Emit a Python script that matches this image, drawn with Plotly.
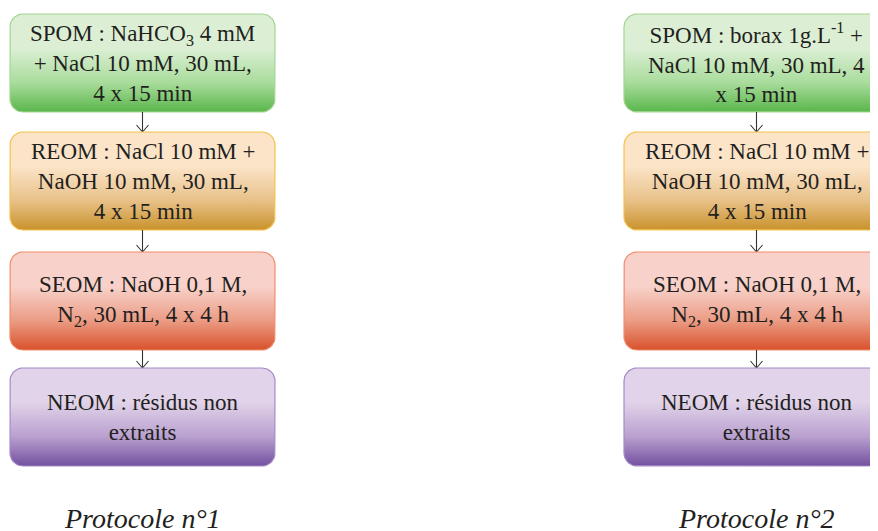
import numpy as np
import plotly.graph_objects as go

# ---- content ----
protocol_titles = ["Protocole n°1", "Protocole n°2"]
steps_p1 = [
    "SPOM : NaHCO<sub>3</sub> 4 mM<br>+ NaCl 10 mM, 30 mL,<br>4 x 15 min",
    "REOM : NaCl 10 mM +<br>NaOH 10 mM, 30 mL,<br>4 x 15 min",
    "SEOM : NaOH 0,1 M,<br>N<sub>2</sub>, 30 mL, 4 x 4 h",
    "NEOM : résidus non<br>extraits",
]
steps_p2 = [
    "SPOM : borax 1g.L<sup>-1</sup> +<br>NaCl 10 mM, 30 mL, 4<br>x 15 min",
    "REOM : NaCl 10 mM +<br>NaOH 10 mM, 30 mL,<br>4 x 15 min",
    "SEOM : NaOH 0,1 M,<br>N<sub>2</sub>, 30 mL, 4 x 4 h",
    "NEOM : résidus non<br>extraits",
]
# gradient colours (top, mid, bottom) and border per step
step_top = ["#dcefd5", "#fbe4c8", "#f8d2ca", "#e1d3e9"]
step_mid = ["#a9dc9c", "#e8c189", "#eb9c85", "#b9a0cf"]
step_bot = ["#5ab64b", "#c9922b", "#d8522b", "#73509f"]
step_border = ["#a3d592", "#f3c24c", "#f08b6b", "#a68ac7"]

# ---- layout geometry (page pixels) ----
W, H = 878, 531
PAGE_MARGIN = 8  # default body margin of the html page
col_left = [10, 624]
box_w = 265
box_tops = [14, 132, 252, 368]
box_h = 98
radius = 13


def rounded_rect(x0, y0, w, h, r, n=10):
    x1, y1 = x0 + w, y0 + h
    pts = []
    corners = [
        (x1 - r, y0 + r, -np.pi / 2, 0),
        (x1 - r, y1 - r, 0, np.pi / 2),
        (x0 + r, y1 - r, np.pi / 2, np.pi),
        (x0 + r, y0 + r, np.pi, 1.5 * np.pi),
    ]
    for cx, cy, a0, a1 in corners:
        for t in np.linspace(a0, a1, n):
            pts.append((cx + r * np.cos(t), cy + r * np.sin(t)))
    pts.append(pts[0])
    xs, ys = zip(*pts)
    return list(xs), list(ys)


fig = go.Figure()
font_family = "Liberation Serif"

for ci, (x0, steps) in enumerate(zip(col_left, [steps_p1, steps_p2])):
    cx = x0 + box_w / 2
    for si, text in enumerate(steps):
        y0 = box_tops[si]
        xs, ys = rounded_rect(x0, y0, box_w, box_h, radius)
        fig.add_trace(go.Scatter(
            x=xs, y=ys, mode="lines", fill="toself",
            line=dict(color=step_border[si], width=1.2),
            fillgradient=dict(
                type="vertical",
                start=y0, stop=y0 + box_h,
                colorscale=[[0, step_top[si]], [0.35, step_top[si]],
                            [0.7, step_mid[si]], [1, step_bot[si]]],
            ),
            hoverinfo="skip", showlegend=False,
        ))
        fig.add_annotation(
            x=cx, y=y0 + box_h / 2, xref="x", yref="y",
            text=text, showarrow=False,
            font=dict(family=font_family, size=23, color="#231f20"),
            align="center", xanchor="center", yanchor="middle",
        )
        # arrows between boxes
        if si < len(steps) - 1:
            ya = y0 + box_h
            yb = box_tops[si + 1]
            fig.add_trace(go.Scatter(
                x=[cx, cx, None, cx - 6, cx, cx + 6],
                y=[ya, yb, None, yb - 7, yb, yb - 7],
                mode="lines", line=dict(color="#333333", width=1.1),
                hoverinfo="skip", showlegend=False,
            ))
    fig.add_annotation(
        x=cx, y=518, xref="x", yref="y",
        text="<i>" + protocol_titles[ci] + "</i>", showarrow=False,
        font=dict(family=font_family, size=28, color="#231f20"),
        xanchor="center", yanchor="middle",
    )

fig.update_layout(
    width=W - PAGE_MARGIN, height=H - PAGE_MARGIN,
    margin=dict(l=0, r=0, t=0, b=0),
    paper_bgcolor="white", plot_bgcolor="white",
    xaxis=dict(range=[PAGE_MARGIN, W], visible=False, fixedrange=True),
    yaxis=dict(range=[H, PAGE_MARGIN], visible=False, fixedrange=True),
    showlegend=False,
)

fig.write_html("out.html")
